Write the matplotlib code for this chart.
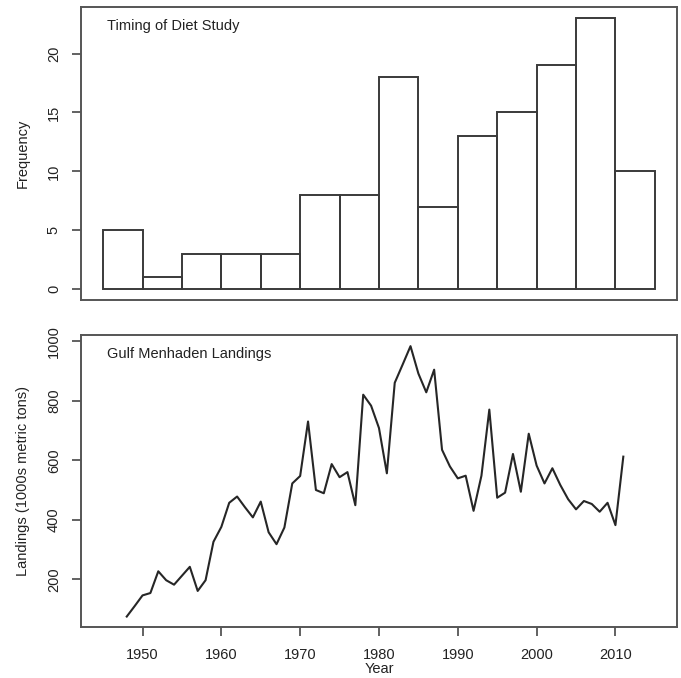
import matplotlib
matplotlib.use('Agg')
from matplotlib import pyplot as plt

plt.rcParams['font.family'] = ['Liberation Sans', 'DejaVu Sans']

# histogram of diet study years (5-year bins)
bin_edges = [1945, 1950, 1955, 1960, 1965, 1970, 1975, 1980, 1985, 1990,
             1995, 2000, 2005, 2010, 2015]
study_counts = [5, 1, 3, 3, 3, 8, 8, 18, 7, 13, 15, 19, 23, 10]

# gulf menhaden landings, 1000s metric tons
years = list(range(1948, 2012))
landings = [75, 110, 146, 154, 227, 197, 182, 212, 242, 161,
            197, 326, 376, 457, 478, 442, 408, 461, 358, 318,
            374, 522, 547, 730, 500, 489, 587, 543, 560, 449,
            820, 783, 708, 556, 860, 921, 983, 891, 828, 904,
            635, 579, 539, 548, 430, 548, 770, 474, 491, 621,
            494, 689, 582, 522, 573, 517, 469, 435, 463, 453,
            427, 457, 382, 612]

edge = '#3a3a3a'
txt = '#222222'

fig = plt.figure(figsize=(6.81, 6.78), dpi=100)
ax1 = fig.add_axes([0.119, 0.5575, 0.875, 0.4317])
ax2 = fig.add_axes([0.119, 0.0757, 0.875, 0.430])

lefts = bin_edges[:-1]
widths = [b - a for a, b in zip(bin_edges[:-1], bin_edges[1:])]
ax1.bar(lefts, study_counts, width=widths, align='edge', fill=False,
        edgecolor=edge, linewidth=1.4)
ax1.set_xlim(1942.2, 2017.8)
ax1.set_ylim(-0.92, 23.92)
ax1.set_yticks([0, 5, 10, 15, 20])
ax1.set_xticks([])
ax1.set_ylabel('Frequency', fontsize=10.5, color=txt, labelpad=12)
ax1.text(0.044, 0.935, 'Timing of Diet Study', transform=ax1.transAxes,
         fontsize=10.5, color=txt, va='center', ha='left')

ax2.plot(years, landings, color='#262626', linewidth=1.5)
ax2.set_xlim(1942.2, 2017.8)
ax2.set_ylim(41, 1020)
ax2.set_yticks([200, 400, 600, 800, 1000])
ax2.set_xticks([1950, 1960, 1970, 1980, 1990, 2000, 2010])
ax2.set_xlabel('Year', fontsize=10.5, color=txt, labelpad=0)
ax2.set_ylabel('Landings (1000s metric tons)', fontsize=10.5, color=txt,
               labelpad=12)
ax2.text(0.044, 0.935, 'Gulf Menhaden Landings', transform=ax2.transAxes,
         fontsize=10.5, color=txt, va='center', ha='left')

for ax in (ax1, ax2):
    for s in ax.spines.values():
        s.set_color('#555555')
        s.set_linewidth(1.4)
    ax.tick_params(axis='both', direction='out', length=6.5, width=1.3,
                   color='#555555', labelcolor=txt, labelsize=10.5, pad=8)
    ax.tick_params(axis='x', pad=9)
    for lab in ax.get_yticklabels():
        lab.set_rotation(90)
        lab.set_va('center')

fig.savefig('out.png', dpi=100)
